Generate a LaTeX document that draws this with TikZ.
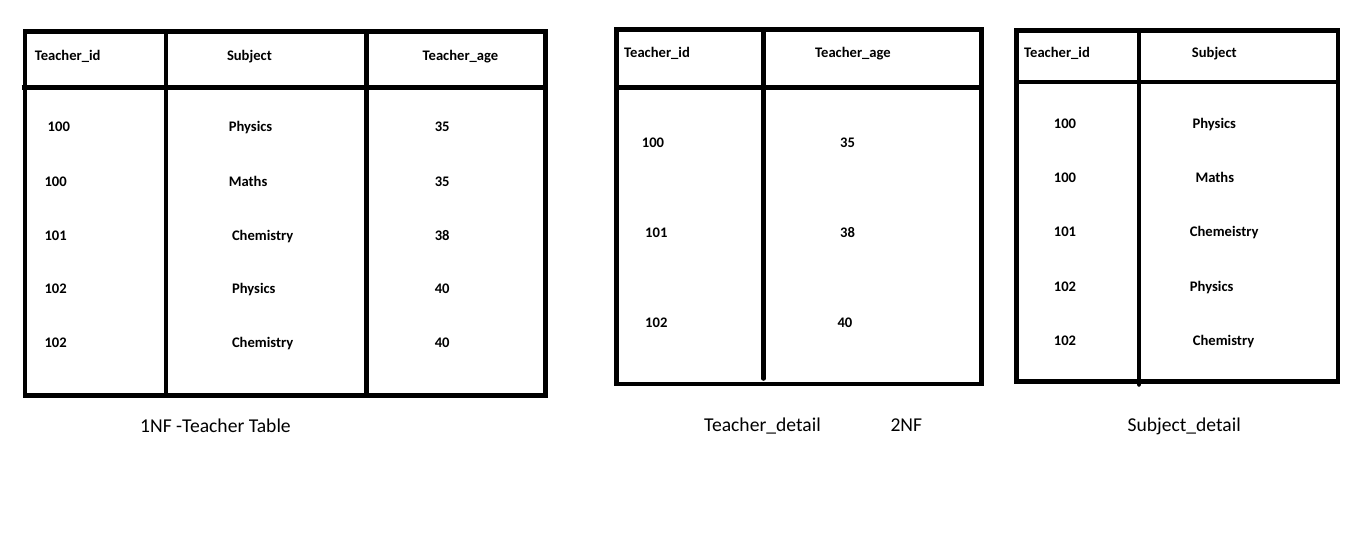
\documentclass[tikz,border=0pt]{standalone}
\usepackage{fontspec}
\setmainfont{Carlito}
\begin{document}
\begin{tikzpicture}[x=1pt,y=-1pt,
  rule/.style={line width=4.5pt,draw=black},
  colrule/.style={line width=4.5pt,draw=black,line cap=round},
  cell/.style={font=\fontsize{14.6}{16}\selectfont\bfseries,inner sep=0pt,anchor=west,text height=9pt,text depth=0pt},
  caption/.style={font=\fontsize{19.6}{22}\selectfont,inner sep=0pt,anchor=west,text height=12pt,text depth=0pt}]
\useasboundingbox[fill=white] (0,0) rectangle (1360,550);
% ---------- Table 1 ----------
\draw[rule] (25,31.5) rectangle (545.5,395.5);
\draw[rule] (21.5,87.5) -- (545.5,87.5);
\draw[rule] (166,31.5) -- (166,395.5);
\draw[rule] (366.5,31.5) -- (366.5,395.5);
\node[cell] (a-h1) at (34.6,55.7) {Teacher\_id};
\node[cell] (a-h2) at (226.8,55.7) {Subject};
\node[cell] (a-h3) at (422.5,55.7) {Teacher\_age};
\node[cell] (a-11) at (47.5,127.3) {100};
\node[cell] (a-21) at (44.3,181.7) {100};
\node[cell] (a-31) at (44.3,235.7) {101};
\node[cell] (a-41) at (44.3,289.3) {102};
\node[cell] (a-51) at (44.3,343.3) {102};
\node[cell] (a-12) at (228.6,127.3) {Physics};
\node[cell] (a-22) at (228.6,181.7) {Maths};
\node[cell] (a-32) at (231.8,235.7) {Chemistry};
\node[cell] (a-42) at (231.8,289.3) {Physics};
\node[cell] (a-52) at (231.8,343.3) {Chemistry};
\node[cell] (a-13) at (434.6,127.3) {35};
\node[cell] (a-23) at (434.6,181.7) {35};
\node[cell] (a-33) at (434.6,235.7) {38};
\node[cell] (a-43) at (434.6,289.3) {40};
\node[cell] (a-53) at (434.6,343.3) {40};
\node[caption] (cap1) at (140,426) {1NF -Teacher Table};
% ---------- Table 2 ----------
\draw[rule] (616.5,29.5) rectangle (981.5,384);
\draw[rule] (616.5,87.5) -- (981.5,87.5);
\draw[colrule] (763.5,29.5) -- (763.5,378.5);
\node[cell] (b-h1) at (624,53.3) {Teacher\_id};
\node[cell] (b-h2) at (815,53.3) {Teacher\_age};
\node[cell] (b-11) at (641.7,143.3) {100};
\node[cell] (b-21) at (645,233.3) {101};
\node[cell] (b-31) at (645,323.3) {102};
\node[cell] (b-12) at (840,143.3) {35};
\node[cell] (b-22) at (840,233.3) {38};
\node[cell] (b-32) at (837.3,323.3) {40};
\node[caption] (cap2) at (704,425) {Teacher\_detail};
\node[caption] (cap2b) at (890.3,425) {2NF};
% ---------- Table 3 ----------
\draw[rule] (1016.5,30.5) rectangle (1338,381.5);
\draw[rule] (1016.5,82) -- (1338,82);
\draw[colrule] (1139,30.5) -- (1139,384.5);
\node[cell] (c-h1) at (1024,52.7) {Teacher\_id};
\node[cell] (c-h2) at (1191.7,52.7) {Subject};
\node[cell] (c-11) at (1053.7,124.3) {100};
\node[cell] (c-21) at (1053.7,178.3) {100};
\node[cell] (c-31) at (1053.7,232.3) {101};
\node[cell] (c-41) at (1053.7,286.7) {102};
\node[cell] (c-51) at (1053.7,340.7) {102};
\node[cell] (c-12) at (1192.3,124.3) {Physics};
\node[cell] (c-22) at (1195.3,178.3) {Maths};
\node[cell] (c-32) at (1189.7,232.3) {Chemeistry};
\node[cell] (c-42) at (1189.7,286.7) {Physics};
\node[cell] (c-52) at (1192.7,340.7) {Chemistry};
\node[caption] (cap3) at (1127.3,425) {Subject\_detail};
\end{tikzpicture}
\end{document}
